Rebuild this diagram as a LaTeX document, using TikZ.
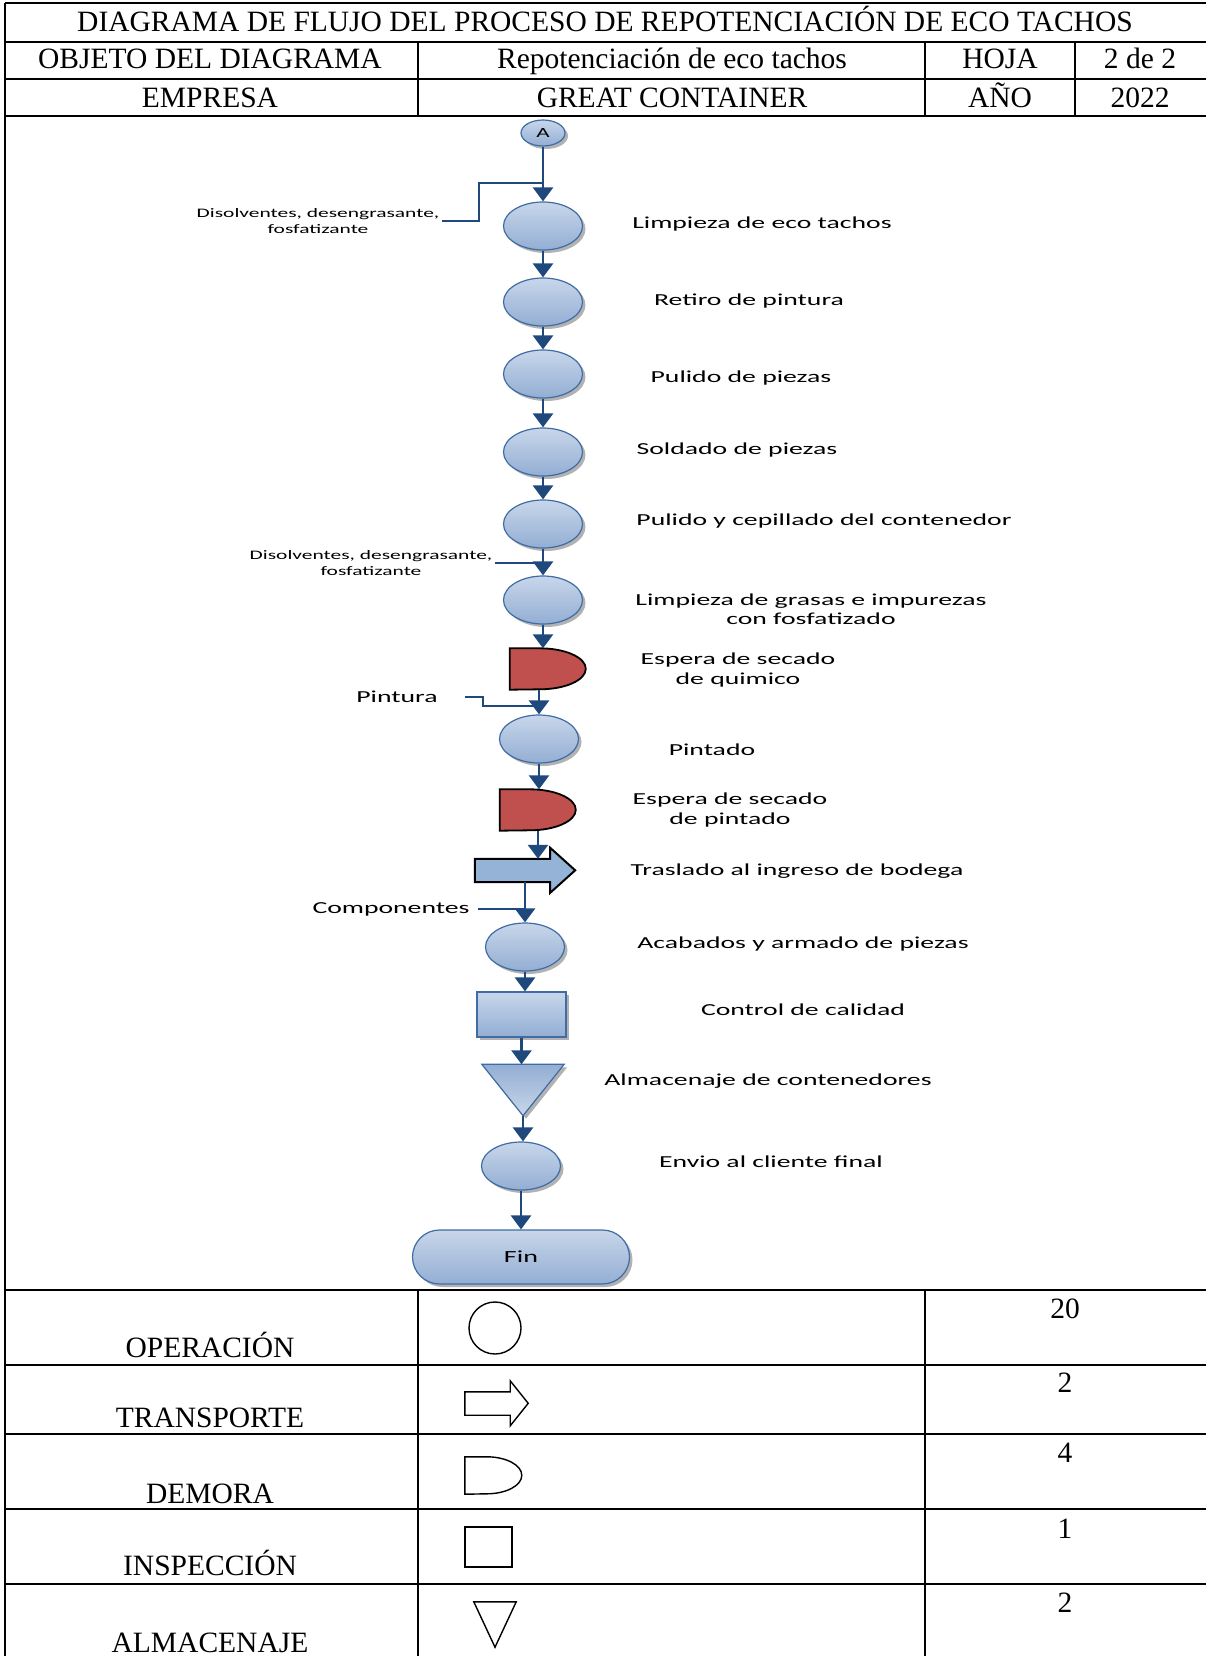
\documentclass[tikz,border=0pt]{standalone}
\usepackage{fontspec}
\setmainfont{Liberation Serif}
\newfontfamily\flowfont[FakeStretch=1.65]{Carlito}
\usetikzlibrary{arrows.meta,shapes.geometric,shapes.misc,shadows}
\definecolor{flowblue}{HTML}{1F497D}
\definecolor{edgeblue}{HTML}{3F6CA5}
\definecolor{topblue}{HTML}{C8D6EA}
\definecolor{botblue}{HTML}{93AED3}
\definecolor{delayred}{HTML}{C0504D}
\definecolor{transblue}{HTML}{95B3D7}
\tikzset{
  tabline/.style={line width=2.4pt, draw=black},
  cell/.style={anchor=base, inner sep=0pt, font=\fontsize{29.5}{31}\selectfont},
  bluefill/.style={top color=topblue, bottom color=botblue, draw=edgeblue, line width=1.2pt,
    drop shadow={shadow xshift=3pt, shadow yshift=-3pt, fill=black, opacity=0.3}},
  opnode/.style={ellipse, bluefill, minimum width=79pt, minimum height=48pt, inner sep=0pt},
  conn/.style={ellipse, bluefill, minimum width=44pt, minimum height=26pt, inner sep=0pt, font=\flowfont\fontsize{14}{14}\selectfont},
  hold/.style={rectangle, inner sep=0pt},
  dlyfill/.style={fill=delayred, draw=black, line width=1.8pt},
  trfill/.style={fill=transblue, draw=black, line width=2pt, line join=miter},
  insp/.style={rectangle, bluefill, minimum width=89pt, minimum height=45pt, inner sep=0pt},
  endnode/.style={rounded rectangle, bluefill, minimum width=217pt, minimum height=54pt, inner sep=0pt, font=\flowfont\fontsize{17}{17}\selectfont},
  flow/.style={-{Triangle[length=14pt,width=20pt]}, line width=2.7pt, draw=flowblue},
  feed/.style={line width=2pt, draw=flowblue},
  lbl/.style={align=center, inner sep=0pt, font=\flowfont\fontsize{16.8}{19.5}\selectfont},
  inlbl/.style={align=center, inner sep=3pt, font=\flowfont\fontsize{13}{16}\selectfont},
  legend/.style={draw=black, line width=1.4pt, inner sep=0pt}
}
\begin{document}
\begin{tikzpicture}[x=1pt, y=-1pt]
\useasboundingbox (0,0) rectangle (1206,1656);
\draw[tabline] (5,3) -- (1206,3);
\foreach \y in {42,79,116,1290,1365,1434,1509,1584}
  \draw[tabline] (5,\y) -- (1206,\y);
\draw[tabline] (5,3) -- (5,1656);
\foreach \x in {418,925,1075}
  \draw[tabline] (\x,42) -- (\x,116);
\foreach \x in {418,925}
  \draw[tabline] (\x,1290) -- (\x,1656);

\node[cell] (tit) at (605,32) {DIAGRAMA DE FLUJO DEL PROCESO DE REPOTENCIACIÓN DE ECO TACHOS};
\node[cell] (obj) at (210,69) {OBJETO DEL DIAGRAMA};
\node[cell] (objv) at (672,69) {Repotenciación de eco tachos};
\node[cell] (hoja) at (1000,69) {HOJA};
\node[cell] (hojav) at (1140,69) {2 de 2};
\node[cell] (emp) at (210,108) {EMPRESA};
\node[cell] (empv) at (672,108) {GREAT CONTAINER};
\node[cell] (anio) at (1000,108) {AÑO};
\node[cell] (aniov) at (1140,108) {2022};

\node[conn] (a) at (543,133) {A};
\node[opnode] (o1) at (543,226) {};
\node[opnode] (o2) at (543,302) {};
\node[opnode] (o3) at (543,374) {};
\node[opnode] (o4) at (543,452) {};
\node[opnode] (o5) at (543,524) {};
\node[opnode] (o6) at (543,600) {};
\node[hold, minimum width=76pt, minimum height=41pt] (d1) at (548,669) {};
\node[opnode] (o7) at (539,739) {};
\node[hold, minimum width=76pt, minimum height=41pt] (d2) at (538,810) {};
\node[hold, minimum width=75pt, minimum height=23pt] (tr) at (512.5,870.5) {};
\node[opnode] (o8) at (525,947) {};
\node[insp] (in) at (521.5,1014.5) {};
\node[hold, minimum width=82pt, minimum height=51pt] (st) at (523,1090) {};
\node[opnode] (o9) at (521,1166) {};
\node[endnode] (fin) at (521,1257) {Fin};

\draw[dlyfill] (d1.north west) -- ++(30,0) arc[start angle=90, end angle=-90, x radius=46pt, y radius=20.5pt] -- (d1.south west) -- cycle;
\draw[dlyfill] (d2.north west) -- ++(30,0) arc[start angle=90, end angle=-90, x radius=46pt, y radius=20.5pt] -- (d2.south west) -- cycle;
\draw[trfill] (tr.north west) -- (tr.north east) -- ++(0,-11) -- ++(25,22.5) -- ++(-25,22.5) -- (tr.south east) -- (tr.south west) -- cycle;
\draw[bluefill, top color=botblue, bottom color=topblue] (st.north west) -- (st.north east) -- (st.south) -- cycle;

\node[lbl] (l1) at (762,224) {Limpieza de eco tachos};
\node[lbl] (l2) at (749,301) {Retiro de pintura};
\node[lbl] (l3) at (741,378) {Pulido de piezas};
\node[lbl] (l4) at (737,450) {Soldado de piezas};
\node[lbl] (l5) at (824,521) {Pulido y cepillado del contenedor};
\node[lbl] (l6) at (811,609) {Limpieza de grasas e impurezas\\con fosfatizado};
\node[lbl] (l7) at (738,670) {Espera de secado\\de quimico};
\node[lbl] (l8) at (712,750) {Pintado};
\node[lbl] (l9) at (730,810) {Espera de secado\\de pintado};
\node[lbl] (l10) at (797,871) {Traslado al ingreso de bodega};
\node[lbl] (l11) at (803,944) {Acabados y armado de piezas};
\node[lbl] (l12) at (803,1010) {Control de calidad};
\node[lbl] (l13) at (768,1081) {Almacenaje de contenedores};
\node[lbl] (l14) at (771,1162) {Envio al cliente final};

\node[inlbl] (in1) at (318,221) {Disolventes, desengrasante,\\fosfatizante};
\node[inlbl] (in2) at (371,563) {Disolventes, desengrasante,\\fosfatizante};
\node[lbl] (pin) at (397,697) {Pintura};
\node[lbl] (comp) at (391,909) {Componentes};
\coordinate (j1) at (543,183);
\coordinate (j3) at (537,706);

\draw[flow] (a) -- (o1);
\draw[flow] (o1) -- (o2);
\draw[flow] (o2) -- (o3);
\draw[flow] (o3) -- (o4);
\draw[flow] (o4) -- (o5);
\draw[flow] (o5) -- (o6);
\draw[flow] (o6.south) -- (o6.south |- d1.north);
\draw[flow] (o7.north |- d1.south) -- (o7.north);
\draw[flow] (o7.south) -- (o7.south |- d2.north);
\draw[flow] (d2.south) -- (d2.south |- tr.north);
\draw[flow] (tr.south -| o8.north) -- (o8.north);
\draw[flow] (o8.south) -- (o8.south |- in.north);
\draw[flow] (in.south) -- (in.south |- st.north);
\draw[flow] (st.south) -- (st.south |- o9.north);
\draw[flow] (o9.south) -- (fin.north);
\draw[feed] (in1.east) -- ++(37,0) |- (j1);
\draw[feed] (in2.east) -- (in2.east -| o6.north);
\draw[feed] ([xshift=27pt]pin.east) -- ++(18,0) |- (j3);
\draw[feed] ([xshift=8pt]comp.east) -- (comp.east -| o8.north);

\node[cell] (t1) at (210,1357) {OPERACIÓN};
\node[cell] (t2) at (210,1427) {TRANSPORTE};
\node[cell] (t3) at (210,1503) {DEMORA};
\node[cell] (t4) at (210,1575) {INSPECCIÓN};
\node[cell] (t5) at (210,1652) {ALMACENAJE};
\node[cell] (n1) at (1065,1318) {20};
\node[cell] (n2) at (1065,1392) {2};
\node[cell] (n3) at (1065,1462) {4};
\node[cell] (n4) at (1065,1538) {1};
\node[cell] (n5) at (1065,1612) {2};

\node[legend, circle, minimum size=52pt] (s1) at (495,1328) {};
\node[hold, minimum width=45pt, minimum height=23pt] (s2) at (487.5,1403.5) {};
\draw[legend] (s2.north west) -- (s2.north east) -- ++(0,-11) -- ++(18,22.5) -- ++(-18,22.5) -- (s2.south east) -- (s2.south west) -- cycle;
\node[hold, minimum width=57pt, minimum height=37pt] (s3) at (493.5,1475.5) {};
\draw[legend] (s3.north west) -- ++(22,0) arc[start angle=90, end angle=-90, x radius=35pt, y radius=18.5pt] -- (s3.south west) -- cycle;
\node[legend, rectangle, minimum width=47pt, minimum height=40pt] (s4) at (488.5,1547) {};
\node[hold, minimum width=42pt, minimum height=45pt] (s5) at (495,1624.5) {};
\draw[legend] (s5.north west) -- (s5.north east) -- (s5.south) -- cycle;
\end{tikzpicture}
\end{document}
